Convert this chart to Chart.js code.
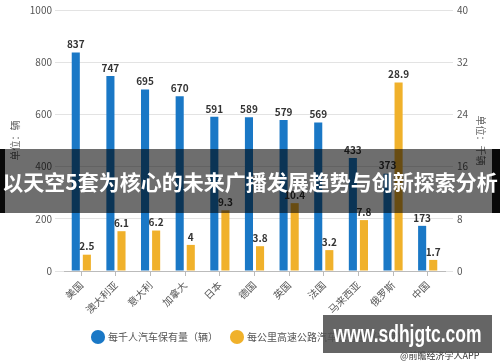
<!DOCTYPE html>
<html>
<head>
<meta charset="utf-8">
<script src="https://cdn.jsdelivr.net/npm/chart.js@4/dist/chart.umd.min.js"></script>
<style>
	html, body { margin: 0; padding: 0; background: #fff; }
	#wrap { position: relative; width: 500px; height: 362px; overflow: hidden; }
	#banner {
		position: absolute; left: 0; top: 149px; width: 500px; height: 64px;
		background: rgba(0, 0, 0, 0.57);
	}
	#banner .edge { position: absolute; top: 0; height: 64px; background: rgba(0, 0, 0, 0.92); }
	#banner .txt {
		position: absolute; left: -50px; width: 600px; top: 0;
		color: #fff; font: bold 21px 'Noto Sans CJK SC', sans-serif;
		line-height: 64px; text-align: center; white-space: nowrap;
	}
	#mark {
		position: absolute; left: 323px; top: 315px; width: 169px; height: 38px;
		background: rgba(80, 80, 80, 0.88);
	}
	#mark span {
		position: absolute; left: -30px; width: 229px; top: 0;
		color: #fff; font: bold 23px 'Liberation Sans', sans-serif;
		line-height: 38px; text-align: center;
		transform: scaleX(0.76);
	}
	#source {
		position: absolute; left: 400px; top: 350px;
		color: #333; font: 9px 'Noto Sans CJK SC', sans-serif; line-height: 12px;
	}
</style>
</head>
<body>
<div id="wrap">
	<canvas id="chart" width="500" height="362"></canvas>
	<div id="source">@前瞻经济学人APP</div>
	<div id="banner">
		<div class="edge" style="left:0;width:5px"></div>
		<div class="edge" style="right:0;width:8px"></div>
		<div class="txt">以天空5套为核心的未来广播发展趋势与创新探索分析</div>
	</div>
	<div id="mark"><span>www.sdhjgtc.com</span></div>
</div>
<script>
const countries = ['美国', '澳大利亚', '意大利', '加拿大', '日本', '德国', '英国', '法国', '马来西亚', '俄罗斯', '中国'];
const carsPerThousand = [837, 747, 695, 670, 591, 589, 579, 569, 433, 373, 173];
const carsPerKm = [2.5, 6.1, 6.2, 4, 9.3, 3.8, 10.4, 3.2, 7.8, 28.9, 1.7];
const leftTicks = [0, 200, 400, 600, 800, 1000];
const rightTicks = [0, 8, 16, 24, 32, 40];

const cjk = "'Noto Sans CJK SC', 'Microsoft YaHei', sans-serif";

const barLabels = {
	id: 'barLabels',
	afterDatasetsDraw(chart) {
		const ctx = chart.ctx;
		ctx.save();
		ctx.font = 'bold 10px ' + cjk;
		ctx.fillStyle = '#333';
		ctx.textAlign = 'center';
		ctx.textBaseline = 'bottom';
		chart.data.datasets.forEach((ds, i) => {
			chart.getDatasetMeta(i).data.forEach((el, j) => {
				ctx.fillText(String(ds.data[j]), el.x, el.y - 3);
			});
		});
		ctx.restore();
	}
};

new Chart(
	document.getElementById('chart'),
	{
		type: 'bar',
		data: {
			labels: countries,
			datasets: [
				{
					label: '每千人汽车保有量（辆）',
					data: carsPerThousand,
					backgroundColor: '#1a78c6',
					yAxisID: 'y',
				},
				{
					label: '每公里高速公路汽车保有量（千辆）',
					data: carsPerKm,
					backgroundColor: '#f0b12b',
					yAxisID: 'y1',
				},
			]
		},
		options: {
			responsive: false,
			animation: false,
			categoryPercentage: 0.64,
			barPercentage: 0.73,
			layout: {
				padding: { top: 5, bottom: 10 },
			},
			plugins: {
				legend: {
					position: 'bottom',
					labels: {
						usePointStyle: true,
						pointStyle: 'circle',
						boxWidth: 10,
						boxHeight: 10,
						padding: 14,
						color: '#555',
						font: { size: 10, family: cjk },
					},
				},
				tooltip: { enabled: false },
			},
			scales: {
				x: {
					grid: {
						offset: false,
						drawOnChartArea: false,
						tickLength: 5,
						color: '#bbb',
					},
					border: { color: '#bbb' },
					ticks: {
						maxRotation: 45,
						minRotation: 45,
						color: '#555',
						font: { size: 10, family: cjk },
					},
					afterFit(scale) { scale.height = 47; },
				},
				y: {
					position: 'left',
					min: 0,
					max: 1000,
					afterBuildTicks(scale) { scale.ticks = leftTicks.map(v => ({ value: v })); },
					grid: { color: '#e3e3e3', tickLength: 9 },
					border: { display: false },
					ticks: { color: '#555', padding: 3, font: { size: 10, family: cjk }, callback: v => String(v) },
					title: {
						display: true,
						text: '单位：辆',
						color: '#666',
						padding: { top: 9, bottom: 0 },
						font: { size: 10, family: cjk },
					},
					afterFit(scale) { scale.width = 64; },
				},
				y1: {
					position: 'right',
					min: 0,
					max: 40,
					afterBuildTicks(scale) { scale.ticks = rightTicks.map(v => ({ value: v })); },
					grid: { drawOnChartArea: false, color: '#e3e3e3', tickLength: 8 },
					border: { display: false },
					ticks: { color: '#555', padding: 4, font: { size: 10, family: cjk }, callback: v => String(v) },
					title: {
						display: true,
						text: '单位：千辆',
						color: '#666',
						padding: { top: 13, bottom: 0 },
						font: { size: 10, family: cjk },
					},
					afterFit(scale) { scale.width = 55; },
				},
			}
		},
		plugins: [barLabels],
	}
);
</script>
</body>
</html>
